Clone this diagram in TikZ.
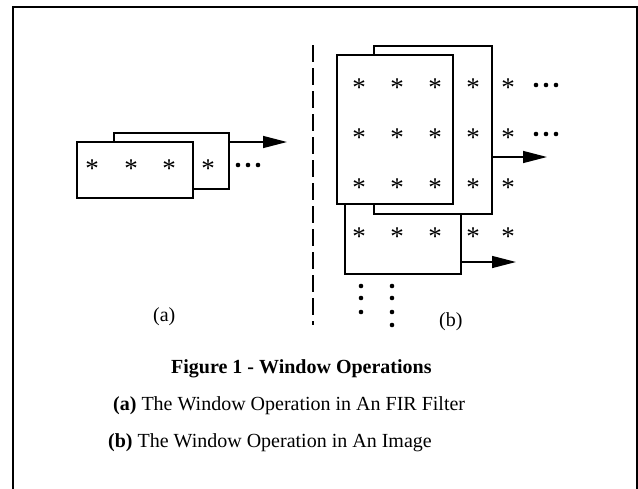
\documentclass[tikz,border=0pt]{standalone}
\usepackage{fontspec}
\setmainfont{Liberation Serif}
\usetikzlibrary{arrows.meta}
\begin{document}
\begin{tikzpicture}[x=1pt,y=-1pt,
 win/.style={draw, fill=white, line width=1.3pt, inner sep=0pt, outer sep=0pt, anchor=north west},
 st/.style={font=\fontsize{27}{30}\selectfont, inner sep=0pt, anchor=base, yshift=-13.5pt},
 dotc/.style={fill=black, circle, inner sep=0pt, minimum size=4.6pt},
 arr/.style={line width=1.4pt, -{Triangle[length=24pt,width=12pt]}},
 lbl/.style={font=\fontsize{20}{24}\selectfont, inner sep=0pt, anchor=base west},
]
\useasboundingbox (0,0) rectangle (638,488);
\draw[line width=2pt] (13,7) rectangle (637,492);

% ---- (a) FIR filter
\node[win, minimum width=115pt, minimum height=56pt] (aback) at (114,133) {};
\node[win, minimum width=116pt, minimum height=56pt] (afront) at (77,142) {};
\foreach \x [count=\i] in {92,131,169,208} \node[st] (as\i) at (\x,164) {*};
\foreach \x [count=\i] in {238,248,258} \node[dotc] (ad\i) at (\x,165) {};
\coordinate (aS) at (229,142);
\coordinate (aE) at (287,142);
\draw[arr] (aS) -- (aE);
\node[lbl] (la) at (153,321) {(a)};

% ---- dashed separator
\coordinate (dT) at (313,45);
\coordinate (dB) at (313,325);
\draw[line width=1.5pt, dash pattern=on 17pt off 6pt] (dT) -- (dB);

% ---- (b) image
\node[win, minimum width=116pt, minimum height=79pt] (bbot) at (345,195) {};
\node[win, minimum width=118pt, minimum height=168pt] (bback) at (374,46) {};
\node[win, minimum width=116pt, minimum height=149pt] (bfront) at (337,55) {};
\foreach \y [count=\j] in {83,133,183,232}
  \foreach \x [count=\i] in {359,397,435,473,508}
    \node[st] (bs\j\i) at (\x,\y) {*};
\foreach \y [count=\j] in {85,134}
  \foreach \x [count=\i] in {536,546,556}
    \node[dotc] (bd\j\i) at (\x,\y) {};
\coordinate (b1S) at (492,157);
\coordinate (b1E) at (547,157);
\draw[arr] (b1S) -- (b1E);
\coordinate (b2S) at (461,262);
\coordinate (b2E) at (516,262);
\draw[arr] (b2S) -- (b2E);
\foreach \y [count=\i] in {286,298,312} \node[dotc] (bv1\i) at (361,\y) {};
\foreach \y [count=\i] in {286,298,312,325} \node[dotc] (bv2\i) at (392,\y) {};
\node[lbl] (lb) at (439,326) {(b)};

% ---- caption
\node[lbl] (cap1) at (171,373) {\bfseries Figure 1 - Window Operations};
\node[lbl] (cap2) at (113,410) {\textbf{(a)} The Window Operation in An FIR Filter};
\node[lbl] (cap3) at (108,447) {\textbf{(b)} The Window Operation in An Image};
\end{tikzpicture}
\end{document}
